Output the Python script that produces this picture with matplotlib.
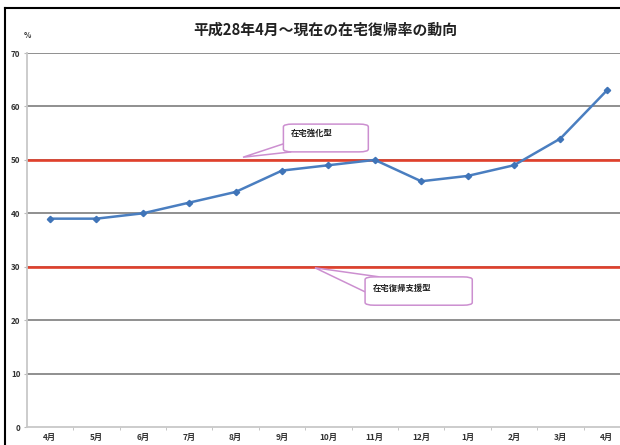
import matplotlib
matplotlib.use("Agg")
import matplotlib.pyplot as plt
from matplotlib.patches import FancyBboxPatch, Polygon
from matplotlib.lines import Line2D

plt.rcParams['font.family'] = ['Noto Sans CJK JP', 'DejaVu Sans']

months = ["4月", "5月", "6月", "7月", "8月", "9月", "10月", "11月", "12月", "1月", "2月", "3月", "4月"]
rates = [39, 39, 40, 42, 44, 48, 49, 50, 46, 47, 49, 54, 63]
yticks = [0, 10, 20, 30, 40, 50, 60, 70]
ref_levels = [50, 30]
ref_labels = ["在宅強化型", "在宅復帰支援型"]
title = "平成28年4月～現在の在宅復帰率の動向"

fig = plt.figure(figsize=(6.2, 4.45), dpi=100)
ax = fig.add_axes([0.0432, 0.0404, 0.973, 0.8404])
x = list(range(len(months)))

ax.set_xlim(-0.5, len(months) - 0.5)
ax.set_ylim(0, 70)
for v in yticks[1:]:
    ax.axhline(v, color="#7d7d7d", lw=1.2, zorder=1)
for v in ref_levels:
    ax.axhline(v, color="#e0402c", lw=1.9, zorder=2)

ax.plot(x, rates, color="#4a7ec0", lw=1.8, marker="D", ms=3.2,
        markerfacecolor="#3f74b8", markeredgecolor="#3f74b8", zorder=4)

ax.set_yticks(yticks)
ax.set_yticklabels([str(v) for v in yticks], fontsize=5.8, fontweight="bold", color="#333333")
ax.set_xticks(x)
ax.set_xticklabels(months, fontsize=6, fontweight="bold", color="#333333")
ax.set_xticks([i + 0.5 for i in x], minor=True)
ax.tick_params(axis="x", which="major", length=0, pad=4)
ax.tick_params(axis="x", which="minor", length=2.5, color="#bbbbbb")
ax.tick_params(axis="y", length=2.5, color="#bbbbbb", pad=2)
for s in ["top", "right"]:
    ax.spines[s].set_visible(False)
ax.spines["left"].set_color("#c8c8c8")
ax.spines["left"].set_linewidth(1.3)
ax.spines["bottom"].set_color("#c8c8c8")
ax.spines["bottom"].set_linewidth(1.3)

# callouts
callouts = [
    # (box x0, y0, w, h, tip, wedge base points, text pos)
    (5.03, 51.5, 1.83, 5.2, (4.16, 50.5), [(5.03, 53.0), (5.2, 51.5)], (5.18, 55.0)),
    (6.79, 22.8, 2.31, 5.3, (5.71, 29.8), [(6.79, 25.3), (7.1, 28.1)], (6.95, 26.0)),
]
for (bx, by, bw, bh, tip, base, tpos), lab in zip(callouts, ref_labels):
    box = FancyBboxPatch((bx, by), bw, bh, boxstyle="round,pad=0,rounding_size=0.2",
                         mutation_aspect=2.5, facecolor="white", edgecolor="#cc8fd0",
                         lw=1.1, zorder=6)
    ax.add_patch(box)
    wedge = Polygon([base[0], tip, base[1]], closed=False, facecolor="white",
                    edgecolor="#cc8fd0", lw=1.1, zorder=5)
    ax.add_patch(wedge)
    ax.text(tpos[0], tpos[1], lab, fontsize=6, fontweight="bold", color="#222222",
            va="center", ha="left", zorder=7)

fig.text(0.524, 0.933, title, fontsize=10.7, fontweight="bold", ha="center", va="center", color="#222222")
fig.text(0.038, 0.921, "%", fontsize=5.5, fontweight="bold", ha="left", va="center", color="#333333")

# outer frame
fig.add_artist(Line2D([0.008, 0.008], [0.0, 0.982], color="black", lw=1.5, transform=fig.transFigure))
fig.add_artist(Line2D([0.008, 1.0], [0.982, 0.982], color="black", lw=1.5, transform=fig.transFigure))

fig.savefig("out.png", dpi=100)
